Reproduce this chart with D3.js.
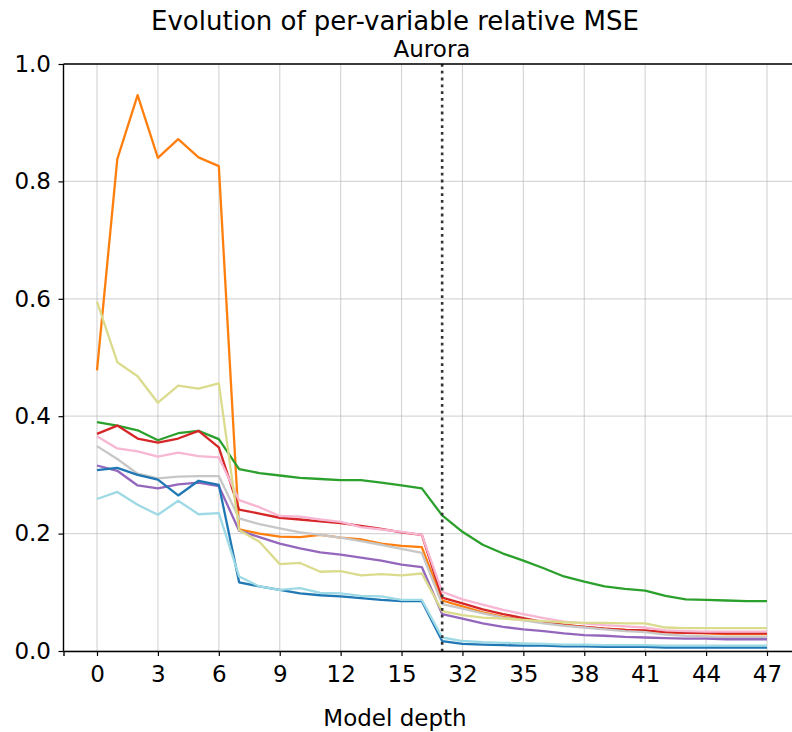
<!DOCTYPE html>
<html>
<head>
<meta charset="utf-8">
<script src="https://cdn.jsdelivr.net/npm/d3@7"></script>
<style>
  html, body { margin: 0; padding: 0; background: #fff; }
  svg { display: block; font-family: "DejaVu Sans", sans-serif; }
</style>
</head>
<body>
<svg id="chart" width="792" height="732"></svg>
<script>
// Model depths shown along the x-axis (layers 17..30 are skipped)
const depths = [0,1,2,3,4,5,6,7,8,9,10,11,12,13,14,15,16,
                31,32,33,34,35,36,37,38,39,40,41,42,43,44,45,46,47];
const tickDepths = [0,3,6,9,12,15,32,35,38,41,44,47];
const yTicks = [0.0, 0.2, 0.4, 0.6, 0.8, 1.0];
const splitDepth = 31;

// Relative MSE per variable, one value per depth above
const seriesColors = ["#ff7f0e","#2ca02c","#d62728","#f7b6d2","#c7c7c7","#9467bd","#dbdb8d","#1f77b4","#9edae5"];

const v_orange = [0.478,0.838,0.947,0.840,0.872,0.841,0.826,0.207,0.200,0.195,0.194,0.198,0.193,0.190,0.183,0.179,0.177,
                  0.086,0.076,0.066,0.058,0.053,0.049,0.045,0.041,0.038,0.036,0.034,0.032,0.031,0.030,0.029,0.029,0.029];
const v_green = [0.390,0.384,0.376,0.359,0.371,0.375,0.361,0.310,0.303,0.299,0.295,0.293,0.291,0.291,0.287,0.282,0.277,
                 0.231,0.203,0.181,0.166,0.154,0.141,0.127,0.118,0.110,0.106,0.103,0.094,0.088,0.087,0.086,0.085,0.085];
const v_red = [0.370,0.384,0.362,0.355,0.362,0.375,0.347,0.241,0.234,0.227,0.224,0.221,0.218,0.213,0.208,0.202,0.198,
               0.091,0.081,0.071,0.063,0.056,0.049,0.044,0.041,0.038,0.036,0.035,0.032,0.031,0.031,0.030,0.030,0.030];
const v_pink = [0.366,0.345,0.340,0.331,0.338,0.332,0.330,0.257,0.245,0.230,0.229,0.224,0.220,0.211,0.207,0.203,0.198,
                0.101,0.088,0.079,0.070,0.063,0.056,0.050,0.047,0.044,0.042,0.040,0.035,0.034,0.033,0.033,0.033,0.033];
const v_gray = [0.349,0.327,0.302,0.294,0.297,0.298,0.298,0.226,0.216,0.209,0.202,0.198,0.193,0.187,0.181,0.174,0.167,
                0.080,0.072,0.064,0.057,0.052,0.047,0.043,0.040,0.037,0.034,0.032,0.028,0.026,0.025,0.024,0.024,0.024];
const v_purple = [0.316,0.307,0.282,0.277,0.284,0.287,0.281,0.205,0.194,0.183,0.175,0.168,0.164,0.159,0.154,0.147,0.143,
                  0.063,0.055,0.047,0.041,0.037,0.034,0.030,0.027,0.026,0.024,0.023,0.022,0.021,0.021,0.020,0.020,0.020];
const v_khaki = [0.595,0.492,0.468,0.423,0.452,0.447,0.456,0.206,0.186,0.148,0.150,0.135,0.136,0.129,0.131,0.129,0.132,
                 0.068,0.061,0.057,0.055,0.053,0.051,0.049,0.048,0.048,0.047,0.047,0.040,0.039,0.039,0.039,0.039,0.039];
const v_blue = [0.308,0.312,0.300,0.292,0.265,0.290,0.283,0.117,0.110,0.104,0.098,0.095,0.093,0.090,0.087,0.085,0.085,
                0.017,0.012,0.011,0.010,0.009,0.009,0.008,0.008,0.007,0.007,0.007,0.006,0.006,0.006,0.006,0.006,0.006];
const v_lightblue = [0.259,0.271,0.249,0.232,0.256,0.233,0.235,0.127,0.110,0.104,0.107,0.099,0.098,0.094,0.093,0.087,0.087,
                     0.023,0.017,0.015,0.014,0.013,0.012,0.011,0.011,0.010,0.010,0.010,0.009,0.009,0.009,0.009,0.009,0.009];

const seriesValues = [v_orange, v_green, v_red, v_pink, v_gray, v_purple, v_khaki, v_blue, v_lightblue];

const margin = {left: 63.5, top: 64, right: 800.5, bottom: 651};
const figCenter = 395;
const svg = d3.select("#chart");

// Depths are placed by their position in the list, so the gap 17..30 collapses
const n = depths.length;
const pad = (n - 1) * 0.05;
const x = d3.scaleLinear().domain([-pad, n - 1 + pad]).range([margin.left, margin.right]);
const y = d3.scaleLinear().domain([0, 1]).range([margin.bottom, margin.top]);
const xi = d => x(depths.indexOf(d));

// grid
const grid = svg.append("g");
grid.selectAll("line.gx").data(tickDepths).join("line")
  .attr("x1", d => xi(d)).attr("x2", d => xi(d))
  .attr("y1", margin.top).attr("y2", margin.bottom)
  .attr("stroke", "#b0b0b0").attr("stroke-opacity", 0.5).attr("stroke-width", 1.2);
grid.selectAll("line.gy").data(yTicks).join("line")
  .attr("x1", margin.left).attr("x2", margin.right)
  .attr("y1", d => y(d)).attr("y2", d => y(d))
  .attr("stroke", "#b0b0b0").attr("stroke-opacity", 0.5).attr("stroke-width", 1.2);

// lines
const line = d3.line().x((d, i) => x(i)).y(d => y(d));
svg.append("g").selectAll("path").data(seriesValues).join("path")
  .attr("d", d => line(d))
  .attr("fill", "none")
  .attr("stroke", (d, i) => seriesColors[i])
  .attr("stroke-width", 2.3)
  .attr("stroke-linejoin", "round");

// split marker
svg.append("line")
  .attr("x1", xi(splitDepth)).attr("x2", xi(splitDepth))
  .attr("y1", margin.top).attr("y2", margin.bottom)
  .attr("stroke", "#333").attr("stroke-width", 2.6)
  .attr("stroke-dasharray", "2.8,4");

// axes
const xAxis = d3.axisBottom(x)
  .tickValues(tickDepths.map(d => depths.indexOf(d)))
  .tickFormat(i => depths[i])
  .tickSize(5).tickPadding(10);
const gx = svg.append("g").attr("transform", `translate(0,${margin.bottom})`).call(xAxis);
const yAxis = d3.axisLeft(y).tickValues(yTicks).tickFormat(d3.format(".1f")).tickSize(5).tickPadding(7.5);
const gy = svg.append("g").attr("transform", `translate(${margin.left},0)`).call(yAxis);
[gx, gy].forEach(g => {
  g.selectAll("text").attr("font-size", 23).attr("fill", "#000").attr("font-family", "DejaVu Sans");
  g.selectAll(".tick line").attr("stroke", "#000").attr("stroke-width", 1.2);
  g.select(".domain").attr("stroke", "#000").attr("stroke-width", 1.4);
});
gy.select(".domain").attr("d", `M0,${margin.bottom}V${margin.top}`);
// top spine
svg.append("line").attr("x1", margin.left).attr("x2", margin.right)
  .attr("y1", margin.top).attr("y2", margin.top)
  .attr("stroke", "#000").attr("stroke-width", 1.4);

// titles
svg.append("text").attr("x", figCenter).attr("y", 29.5).attr("text-anchor", "middle")
  .attr("font-size", 26).text("Evolution of per-variable relative MSE");
svg.append("text").attr("x", (margin.left + margin.right) / 2).attr("y", 56.5).attr("text-anchor", "middle")
  .attr("font-size", 23).text("Aurora");
svg.append("text").attr("x", figCenter).attr("y", 726).attr("text-anchor", "middle")
  .attr("font-size", 23).text("Model depth");
</script>
</body>
</html>
